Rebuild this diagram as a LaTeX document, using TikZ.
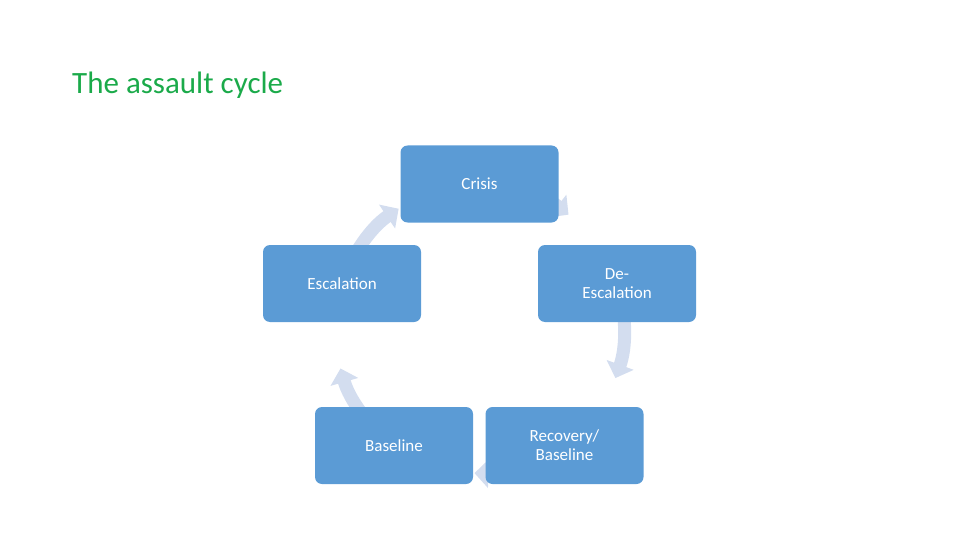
\documentclass[tikz,border=0pt]{standalone}
\usepackage{fontspec}
\setmainfont{Carlito}
\usetikzlibrary{arrows.meta,calc}
\definecolor{boxb}{HTML}{5B9BD5}
\definecolor{arcb}{HTML}{D3DDEF}
\definecolor{ttl}{HTML}{1BAA4A}
\begin{document}
\begin{tikzpicture}[x=1pt,y=1pt,
  box/.style={draw=none,fill=boxb,rounded corners=7pt,minimum width=158pt,minimum height=77pt,text=white,align=center,font=\fontsize{17}{19}\selectfont,inner sep=2pt},
  cyc/.style={arcb,line width=13pt,-{Triangle[width=28pt,length=14pt]}}]
\useasboundingbox (0,0) rectangle (960,-540);
\node[anchor=base west,text=ttl,font=\fontsize{31}{34}\selectfont,inner sep=0] (title) at (72,-94) {The assault cycle};
\coordinate (c) at (479.5,-328.6);
\foreach \a in {162,90,18,-54,-126}{
  \draw[cyc] ($(c)+(\a:144.6)$) arc[start angle=\a,delta angle=-38,radius=144.6];
}
\node[box] (crisis) at (479.5,-184) {Crisis};
\node[box] (esc) at (342,-283.5) {Escalation};
\node[box] (desc) at (617,-283.5) {De-\\Escalation};
\node[box] (base) at (394,-445.5) {Baseline};
\node[box] (rec) at (564.5,-445.5) {Recovery/\\Baseline};
\end{tikzpicture}
\end{document}
